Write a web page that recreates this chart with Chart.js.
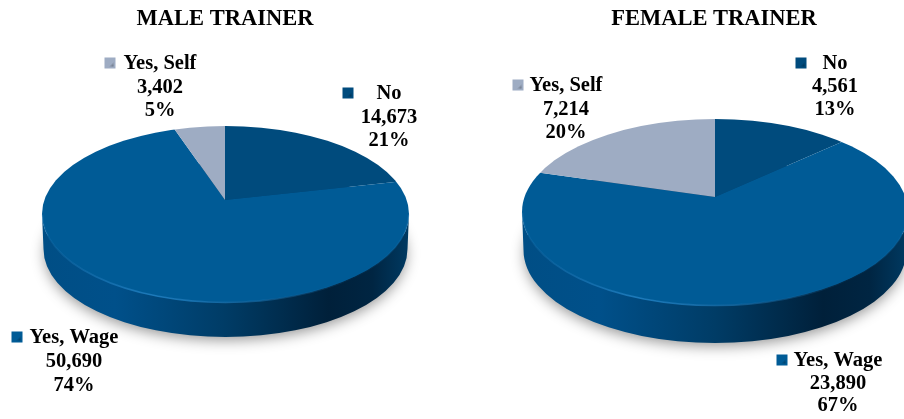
<!DOCTYPE html>
<html>
<head>
<meta charset="utf-8">
<style>
    html, body { margin: 0; padding: 0; background: #fff; overflow: hidden; }
    canvas { position: absolute; top: 0; }
    #maleChart { left: 0; }
    #femaleChart { left: 452px; }
</style>
<script src="https://cdn.jsdelivr.net/npm/chart.js@4"></script>
</head>
<body>
<canvas id="maleChart" width="452" height="419"></canvas>
<canvas id="femaleChart" width="452" height="419"></canvas>
<script>
// ===== DATA =====
const categories = ['No', 'Yes, Wage', 'Yes, Self'];
const maleValues = [14673, 50690, 3402];
const femaleValues = [4561, 23890, 7214];
const maleTitle = 'MALE TRAINER';
const femaleTitle = 'FEMALE TRAINER';
const sliceColors = ['#004b7d', '#005b96', '#9eacc3'];

// ===== LAYOUT (page pixels) =====
const maleLayout = {
    left: 0, titleX: 225,
    apexX: 225, apexY: 200, cx: 225.5, cy: 214, rx: 183.5, ry: 88, depth: 35,
    labels: [
        { x: 389, y: 94, lineGap: 23.5, markX: 348 },
        { x: 74, y: 338, lineGap: 24, markX: 17 },
        { x: 160, y: 64, lineGap: 23.5, markX: 110 }
    ]
};
const femaleLayout = {
    left: 452, titleX: 714,
    apexX: 715, apexY: 197, cx: 715, cy: 212, rx: 193, ry: 93, depth: 38,
    labels: [
        { x: 835, y: 64, lineGap: 23, markX: 801 },
        { x: 838, y: 361, lineGap: 22.5, markX: 782 },
        { x: 566, y: 86, lineGap: 23.5, markX: 518 }
    ]
};
const squash = 0.45;
const labelFont = 'bold 20.5px "Liberation Serif"';
const titleFont = 'bold 22.5px "Liberation Serif"';

// ===== 3D BODY + SQUASHED TOP =====
const pie3dPlugin = {
    id: 'pie3d',
    beforeDatasetsDraw(chart, args, opts) {
        const ctx = chart.ctx;
        const l = opts.layout;
        const cx = l.cx - l.left;

        // soft shadow under the disc
        ctx.save();
        ctx.shadowColor = 'rgba(0,0,0,0.42)';
        ctx.shadowBlur = 14;
        ctx.shadowOffsetY = 5;
        ctx.fillStyle = '#003c66';
        ctx.beginPath();
        ctx.ellipse(cx, l.cy + l.depth, l.rx - 3, l.ry - 2, 0, 0, Math.PI * 2);
        ctx.fill();
        ctx.restore();

        // side wall
        const g = ctx.createLinearGradient(cx - l.rx, 0, cx + l.rx, 0);
        g.addColorStop(0, '#004e85');
        g.addColorStop(0.2, '#00508a');
        g.addColorStop(0.5, '#003c66');
        g.addColorStop(0.78, '#00203a');
        g.addColorStop(0.9, '#002542');
        g.addColorStop(1, '#003a62');
        ctx.fillStyle = g;
        ctx.beginPath();
        ctx.ellipse(cx, l.cy, l.rx, l.ry, 0, Math.PI, 0, true);
        ctx.ellipse(cx, l.cy + l.depth, l.rx - 1.5, l.ry, 0, 0, Math.PI);
        ctx.closePath();
        ctx.fill();

        // slices are drawn by the library, squashed around the apex and cut to the top face
        const el = chart.getDatasetMeta(0).data[0];
        ctx.save();
        ctx.beginPath();
        ctx.ellipse(cx, l.cy, l.rx, l.ry, 0, 0, Math.PI * 2);
        ctx.clip();
        ctx.translate(l.apexX - l.left, l.apexY);
        ctx.scale(1, squash);
        ctx.translate(-el.x, -el.y);
    },
    afterDatasetsDraw(chart, args, opts) {
        const ctx = chart.ctx;
        const l = opts.layout;
        const cx = l.cx - l.left;
        ctx.restore();

        // lit rim along the front of the top face
        const g = ctx.createLinearGradient(cx - l.rx, 0, cx + l.rx, 0);
        g.addColorStop(0, 'rgba(30,125,190,0.2)');
        g.addColorStop(0.3, 'rgba(30,125,190,0.95)');
        g.addColorStop(0.6, 'rgba(30,125,190,0.5)');
        g.addColorStop(0.85, 'rgba(30,125,190,0.05)');
        g.addColorStop(1, 'rgba(30,125,190,0.25)');
        ctx.strokeStyle = g;
        ctx.lineWidth = 1.6;
        ctx.beginPath();
        ctx.ellipse(cx, l.cy + 0.5, l.rx - 0.5, l.ry, 0, 0, Math.PI);
        ctx.stroke();
    },
    afterDraw(chart, args, opts) {
        const ctx = chart.ctx;
        const l = opts.layout;
        const values = chart.data.datasets[0].data;
        const total = values.reduce((a, b) => a + b, 0);

        ctx.save();
        ctx.translate(-l.left, 0);
        ctx.fillStyle = '#000';
        ctx.textAlign = 'center';
        ctx.textBaseline = 'middle';
        ctx.font = titleFont;
        ctx.fillText(opts.title, l.titleX, 19);

        ctx.font = labelFont;
        values.forEach((v, i) => {
            const p = l.labels[i];
            ctx.fillStyle = '#000';
            ctx.fillText(categories[i], p.x, p.y);
            ctx.fillText(v.toLocaleString('en-US'), p.x, p.y + p.lineGap);
            ctx.fillText(Math.round(v / total * 100) + '%', p.x, p.y + p.lineGap * 2);

            // legend key
            const key = ctx.createLinearGradient(p.markX - 6, p.y - 6, p.markX + 6, p.y + 6);
            key.addColorStop(0, sliceColors[i]);
            key.addColorStop(0.55, sliceColors[i]);
            key.addColorStop(1, 'rgba(0,0,0,0.55)');
            ctx.fillStyle = sliceColors[i];
            ctx.fillRect(p.markX - 5.5, p.y - 6.5, 11, 11);
            ctx.fillStyle = key;
            ctx.fillRect(p.markX - 3.5, p.y - 4.5, 7, 7);
        });
        ctx.restore();
    }
};

// ===== CHARTS =====
function makePie(id, values, title, layout) {
    return new Chart(document.getElementById(id), {
        type: 'pie',
        data: {
            labels: categories,
            datasets: [{
                data: values,
                backgroundColor: sliceColors,
                borderWidth: 0,
                clip: false
            }]
        },
        options: {
            responsive: false,
            animation: false,
            radius: 420,
            layout: { padding: 0 },
            plugins: {
                legend: { display: false },
                tooltip: { enabled: false },
                pie3d: { layout: layout, title: title }
            }
        },
        plugins: [pie3dPlugin]
    });
}

makePie('maleChart', maleValues, maleTitle, maleLayout);
makePie('femaleChart', femaleValues, femaleTitle, femaleLayout);
</script>
</body>
</html>
